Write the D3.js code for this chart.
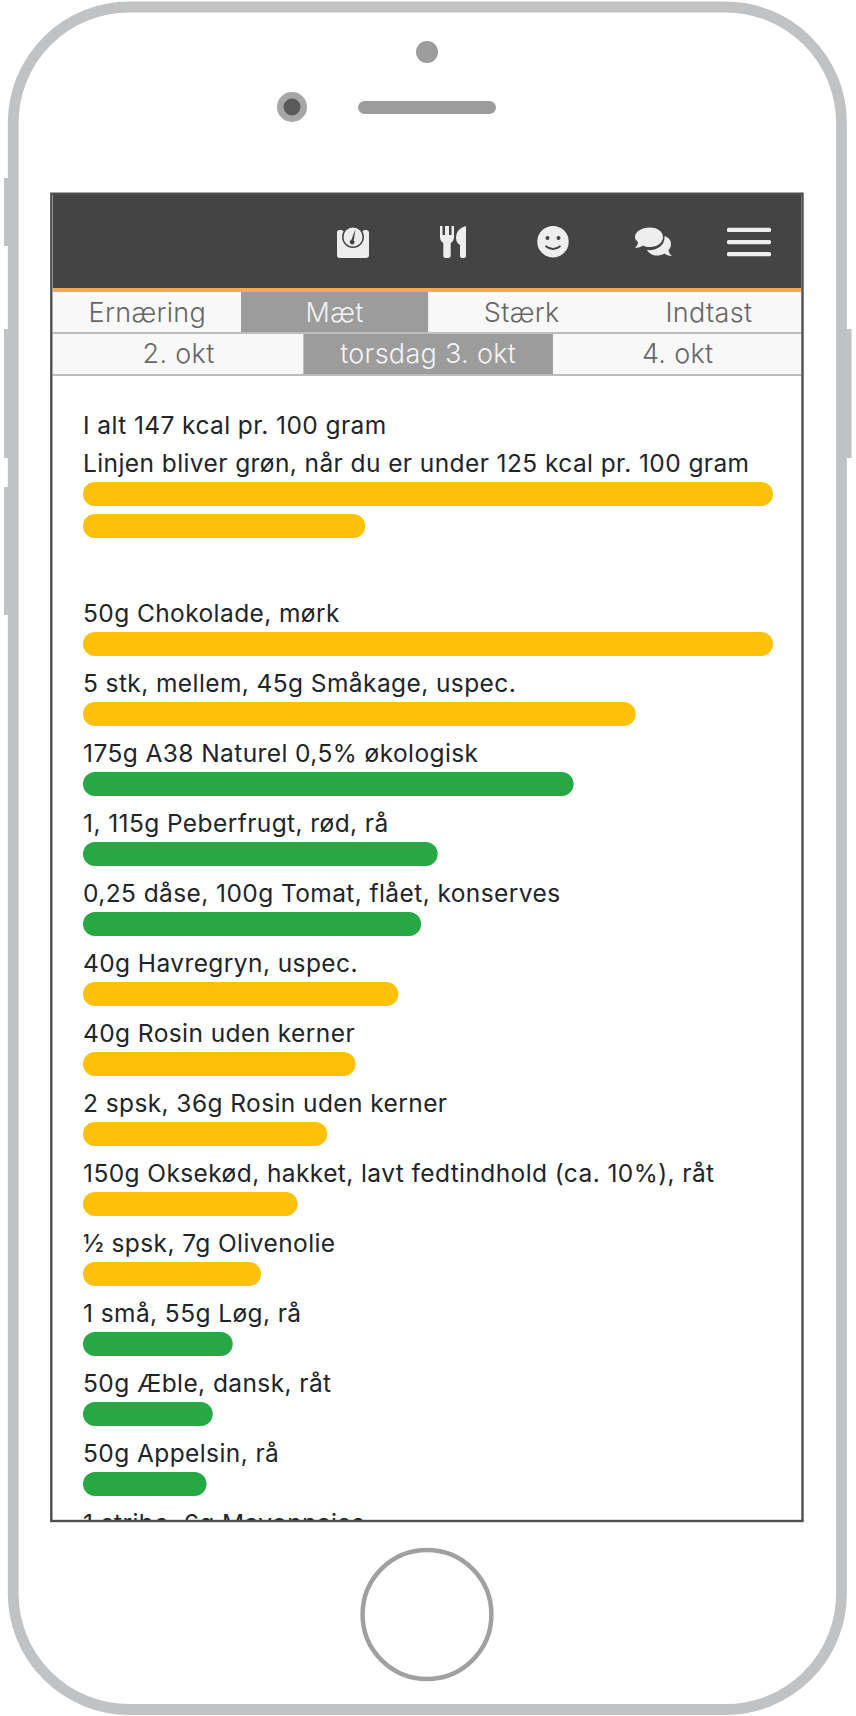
<!DOCTYPE html>
<html>
<head>
<meta charset="utf-8">
<script src="https://cdn.jsdelivr.net/npm/d3@7"></script>
<style>
  html, body { margin: 0; padding: 0; background: #fff; }
  svg { display: block; }
</style>
</head>
<body>
<svg id="chart" width="856" height="1716"></svg>
<script>
// tabs and dates
const tabs = ["Ernæring", "Mæt", "Stærk", "Indtast"];
const activeTab = "Mæt";
const dates = ["2. okt", "torsdag 3. okt", "4. okt"];
const activeDate = "torsdag 3. okt";

// summary
const summaryLines = ["I alt 147 kcal pr. 100 gram", "Linjen bliver grøn, når du er under 125 kcal pr. 100 gram"];
const summaryValues = [100, 40.9];

// foods, bar length in % of the longest one
const foods = [
  "50g Chokolade, mørk",
  "5 stk, mellem, 45g Småkage, uspec.",
  "175g A38 Naturel 0,5% økologisk",
  "1, 115g Peberfrugt, rød, rå",
  "0,25 dåse, 100g Tomat, flået, konserves",
  "40g Havregryn, uspec.",
  "40g Rosin uden kerner",
  "2 spsk, 36g Rosin uden kerner",
  "150g Oksekød, hakket, lavt fedtindhold (ca. 10%), råt",
  "½ spsk, 7g Olivenolie",
  "1 små, 55g Løg, rå",
  "50g Æble, dansk, råt",
  "50g Appelsin, rå",
  "1 stribe, 6g Mayonnaise"
];
const foodValues = [100, 80.1, 71.1, 51.4, 49, 45.7, 39.5, 35.4, 31.1, 25.8, 21.7, 18.8, 17.9];
const foodGreen = [false, false, true, true, true, false, false, false, false, false, true, true, true];

const svg = d3.select("#chart");
const frameColor = "#c1c2c4";
const darkGrey = "#9c9c9c";
const yellow = "#ffc107";
const green = "#28a745";
const bodyFont = "Inter, sans-serif";
const tabFont = "Inter, sans-serif";

// phone body
svg.append("rect").attr("x", 13.2).attr("y", 7).attr("width", 828.3).attr("height", 1702.5)
  .attr("rx", 116).attr("ry", 116)
  .attr("fill", "#fff").attr("stroke", frameColor).attr("stroke-width", 10.8);

[[4, 178, 68], [4, 329, 129], [4, 487, 128], [847, 329, 129]].forEach(([x, y, h]) => {
  svg.append("rect").attr("x", x).attr("y", y).attr("width", 4.5).attr("height", h)
    .attr("fill", frameColor);
});

svg.append("circle").attr("cx", 427).attr("cy", 52).attr("r", 11).attr("fill", darkGrey);
svg.append("circle").attr("cx", 292).attr("cy", 107).attr("r", 15).attr("fill", "#a6a6a6");
svg.append("circle").attr("cx", 292).attr("cy", 107).attr("r", 8.5).attr("fill", "#5a5a5a");
svg.append("rect").attr("x", 358).attr("y", 101).attr("width", 138).attr("height", 13).attr("rx", 6.5)
  .attr("fill", darkGrey);
svg.append("circle").attr("cx", 427).attr("cy", 1614.5).attr("r", 64.4)
  .attr("fill", "#fff").attr("stroke", "#a0a0a0").attr("stroke-width", 4.5);

// screen
const screenX = 52.5, screenW = 749, screenTop = 194, screenBottom = 1520;
svg.append("clipPath").attr("id", "screen").append("rect")
  .attr("x", screenX).attr("y", screenTop).attr("width", screenW).attr("height", screenBottom - screenTop);
const screen = svg.append("g").attr("clip-path", "url(#screen)");
screen.append("rect").attr("x", screenX).attr("y", screenTop).attr("width", screenW)
  .attr("height", screenBottom - screenTop).attr("fill", "#fff");

// header
screen.append("rect").attr("x", screenX).attr("y", 194).attr("width", screenW).attr("height", 94).attr("fill", "#444");
screen.append("rect").attr("x", screenX).attr("y", 288).attr("width", screenW).attr("height", 4).attr("fill", "#f0ad4e");

// tab rows
function tabRow(labels, active, top, height, baseline) {
  const x = d3.scaleBand().domain(labels).range([screenX + 1.3, screenX + screenW + 1]);
  screen.append("rect").attr("x", screenX).attr("y", top).attr("width", screenW).attr("height", height).attr("fill", "#f8f8f8");
  screen.append("rect").attr("x", x(active)).attr("y", top).attr("width", x.bandwidth()).attr("height", height).attr("fill", darkGrey);
  screen.append("rect").attr("x", screenX).attr("y", top + height).attr("width", screenW).attr("height", 2).attr("fill", "#bdbdbd");
  screen.selectAll(null).data(labels).join("text")
    .attr("x", d => x(d) + x.bandwidth() / 2)
    .attr("y", baseline)
    .attr("text-anchor", "middle")
    .style("font", `300 27px ${tabFont}`)
    .style("letter-spacing", "0.3px")
    .style("fill", d => d === active ? "#f4f4f4" : "#666")
    .text(d => d);
}
tabRow(tabs, activeTab, 292, 40, 321.7);
tabRow(dates, activeDate, 334, 40, 363.3);

// header icons
const iconFill = "#eee";
const icons = screen.append("g").attr("fill", iconFill);

// scale
icons.append("path").attr("d", "M337 232 Q337 230 340 230 L342 230 A15 15 0 0 0 364 230 L366 230 Q369 230 369 233 L369 255 Q369 258 366 258 L340 258 Q337 258 337 255 Z");
icons.append("circle").attr("cx", 353).attr("cy", 237).attr("r", 11).attr("fill", "#444");
icons.append("circle").attr("cx", 353).attr("cy", 237).attr("r", 9.5);
icons.append("path").attr("d", "M355.5 229 L353.8 240.5 A2.3 2.3 0 1 1 351.3 240 Z").attr("fill", "#444");

// fork and knife
icons.append("path").attr("d", "M440 226 L442.5 226 L442.5 235 L445 235 L445 226 L449 226 L449 235 L451.5 235 L451.5 226 L454 226 L454 237 Q454 241 450.7 243 L450.7 256 Q450.7 258 447 258 Q443.3 258 443.3 256 L443.3 243 Q440 241 440 237 Z");
icons.append("path").attr("d", "M466 226 L466 256 Q466 258 463 258 Q460 258 460 256 L460 245 Q456 243 456 237 Q456 229 466 226 Z");

// smiley
icons.append("circle").attr("cx", 553).attr("cy", 241.7).attr("r", 15.7);
icons.append("circle").attr("cx", 547.5).attr("cy", 238).attr("r", 2).attr("fill", "#444");
icons.append("circle").attr("cx", 558.5).attr("cy", 238).attr("r", 2).attr("fill", "#444");
icons.append("path").attr("d", "M545.5 246 Q553 252 560.5 246").attr("fill", "none").attr("stroke", "#444").attr("stroke-width", 2);

// chat bubbles
icons.append("path").attr("d", "M650 227.5 C658 227.5 663 232 663 237 C663 243 657 247 650 247 C647 247 645 246.5 643 245.5 C641 247 638 248 635 248 C637 246 638 244 638 242 C636 240.5 635 239 635 237 C635 232 641 227.5 650 227.5 Z");
icons.append("path").attr("d", "M664.5 236 C669 237.5 671 240.5 671 244 C671 246.5 670 248.5 668.5 250 C668.5 252 670 254.5 672 256 C669 256 666.5 255 664.5 253.5 C663 254.5 660 255.5 657 255.5 C653 255.5 649.5 254 647 250 C656 251 665.5 246 664.5 236 Z");

// menu
[227.7, 240, 252].forEach(y => {
  icons.append("rect").attr("x", 727).attr("y", y).attr("width", 44).attr("height", 4.2).attr("rx", 1.5);
});

// bar length scale, shared by the summary and the food bars
const barLeft = 83, barRight = 773, barHeight = 24;
const xScale = d3.scaleLinear().domain([0, 100]).range([barLeft, barRight]);

function bars(parent, values, colors, yOf) {
  parent.selectAll(null).data(values).join("rect")
    .attr("x", xScale(0))
    .attr("y", (d, i) => yOf(i))
    .attr("width", d => xScale(d) - xScale(0))
    .attr("height", barHeight)
    .attr("rx", 12)
    .attr("fill", (d, i) => colors[i]);
}

function labels(parent, texts, yOf) {
  parent.selectAll(null).data(texts).join("text")
    .attr("x", barLeft)
    .attr("y", (d, i) => yOf(i))
    .style("font", `24.5px ${bodyFont}`)
    .style("letter-spacing", "0.41px")
    .style("fill", "#212529")
    .text(d => d);
}

// summary block
const summaryBarY = d3.scalePoint().domain(summaryValues.map((d, i) => i)).range([482, 514]);
const summaryTextY = d3.scalePoint().domain(summaryLines.map((d, i) => i)).range([433.5, 471.5]);
labels(screen, summaryLines, summaryTextY);
bars(screen, summaryValues, summaryValues.map(() => yellow), summaryBarY);

// food rows
const rowY = d3.scaleBand().domain(foods.map((d, i) => i)).range([632, 632 + 70 * foods.length]);
labels(screen, foods, i => rowY(i) - 10.3);
bars(screen, foodValues, foodGreen.map(g => g ? green : yellow), rowY);

// screen border, drawn on top
svg.append("rect").attr("x", 51.3).attr("y", 193.7).attr("width", 751.2).attr("height", 1327.3)
  .attr("fill", "none").attr("stroke", "#4f4f4f").attr("stroke-width", 2.4);
</script>
</body>
</html>
